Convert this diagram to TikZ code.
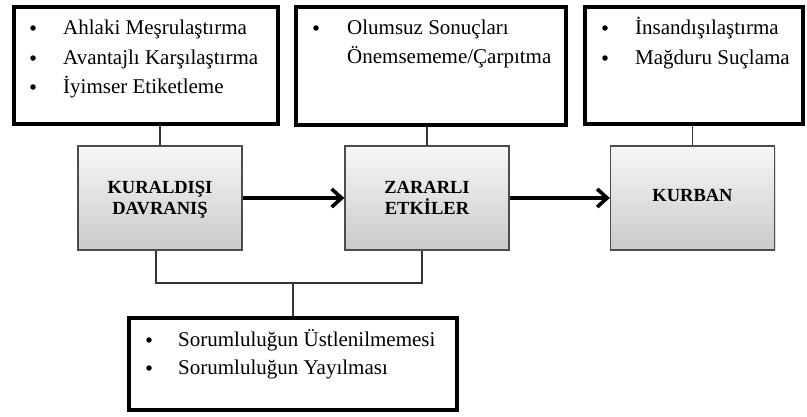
\documentclass[tikz,border=0pt]{standalone}
\usepackage{fontspec}
\setmainfont{Liberation Serif}
\usetikzlibrary{arrows.meta,shadows}
\begin{document}
\begin{tikzpicture}[x=1pt,y=-1pt,
  listbox/.style={draw=black,line width=4pt,inner sep=0pt,fill=white},
  graybox/.style={draw=black!70,line width=1.3pt,inner sep=0pt,
    top color=gray!6,bottom color=gray!42,
    drop shadow={shadow xshift=1.2pt,shadow yshift=-1.2pt,opacity=0.25},
    minimum width=164pt,minimum height=104pt},
  item/.style={anchor=base west,inner sep=0pt,font=\fontsize{21}{25}\selectfont},
  bul/.style={fill=black,circle,inner sep=0pt,minimum size=5.5pt},
  title/.style={align=center,font=\fontsize{18.5}{20.5}\selectfont\bfseries,inner sep=0pt},
  link/.style={draw=black!80,line width=1.3pt},
  flow/.style={line width=3.6pt,-{Straight Barb[length=10pt,width=18pt,line width=3.6pt]}}]
\useasboundingbox (0,0) rectangle (807,416);
% list boxes
\node[listbox,minimum width=264pt,minimum height=117pt] (b1) at (146,65.5) {};
\node[listbox,minimum width=270pt,minimum height=118pt] (b2) at (431,66) {};
\node[listbox,minimum width=218pt,minimum height=117pt] (b3) at (694,65.5) {};
\node[listbox,minimum width=328pt,minimum height=92pt] (b4) at (293,364) {};
% gray boxes
\node[graybox] (k) at (160,198) {};
\node[graybox] (z) at (427,198) {};
\node[graybox] (v) at (692.5,198) {};
\node[title] (kt) at (160,200) {KURALDIŞI\\DAVRANIŞ};
\node[title] (zt) at (427,198) {ZARARLI\\ETKİLER};
\node[title] (vt) at (692.5,195) {KURBAN};
% list items
\node[bul] (p11) at (33,28) {};
\node[item] (t11) at (63,34) {Ahlaki Meşrulaştırma};
\node[bul] (p12) at (33,58) {};
\node[item] (t12) at (63,64) {Avantajlı Karşılaştırma};
\node[bul] (p13) at (33,87) {};
\node[item] (t13) at (63,93) {İyimser Etiketleme};
\node[bul] (p21) at (316,28) {};
\node[item] (t21) at (347,34) {Olumsuz Sonuçları};
\node[item] (t22) at (347,63) {Önemsememe/Çarpıtma};
\node[bul] (p31) at (605,28) {};
\node[item] (t31) at (635,34) {İnsandışılaştırma};
\node[bul] (p32) at (605,58) {};
\node[item] (t32) at (635,64) {Mağduru Suçlama};
\node[bul] (p41) at (149,340) {};
\node[item] (t41) at (178,346) {Sorumluluğun Üstlenilmemesi};
\node[bul] (p42) at (149,368) {};
\node[item] (t42) at (178,374) {Sorumluluğun Yayılması};
% connectors
\draw[link] (b1.south -| k.north) -- (k.north);
\draw[link] (b2.south -| z.north) -- (z.north);
\draw[link] (b3.south -| v.north) -- (v.north);
\coordinate (j) at (293,283);
\draw[link] ([xshift=-4pt]k.south) |- (j) -| ([xshift=-5pt]z.south);
\draw[link] (j) -- (b4.north);
\draw[flow] (k.east) -- (z.west);
\draw[flow] (z.east) -- (v.west);
\end{tikzpicture}
\end{document}
